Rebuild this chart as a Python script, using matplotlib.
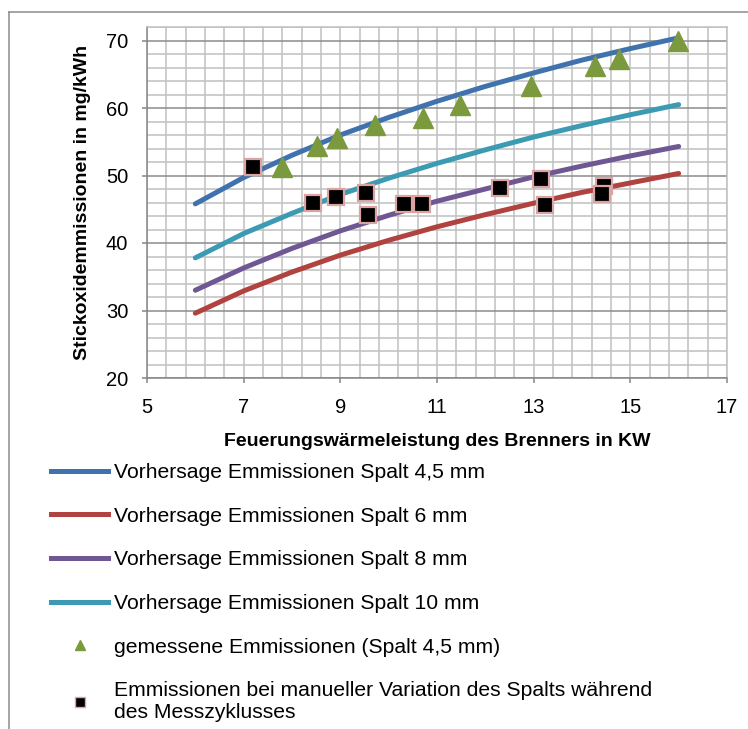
import matplotlib
matplotlib.use("Agg")
import matplotlib.pyplot as plt
from matplotlib.lines import Line2D
from matplotlib.ticker import MultipleLocator

plt.rcParams['font.family'] = ['Liberation Sans', 'DejaVu Sans']

# ---- data ----
x_curve = [6, 7, 8, 9, 10, 11, 12, 13, 14, 15, 16]
pred_45 = [45.8, 49.7, 53.0, 56.0, 58.6, 61.0, 63.2, 65.2, 67.1, 68.8, 70.4]
pred_6 = [29.6, 32.9, 35.7, 38.2, 40.4, 42.4, 44.2, 45.9, 47.5, 48.9, 50.3]
pred_8 = [33.0, 36.3, 39.2, 41.8, 44.1, 46.2, 48.0, 49.8, 51.4, 52.9, 54.3]
pred_10 = [37.8, 41.4, 44.4, 47.2, 49.6, 51.8, 53.8, 55.7, 57.4, 59.0, 60.5]

meas_x = [7.79, 8.51, 8.93, 9.72, 10.71, 11.47, 12.94, 14.27, 14.76, 15.98]
meas_y = [51.2, 54.4, 55.5, 57.5, 58.5, 60.5, 63.2, 66.2, 67.2, 69.9]

man_x = [7.19, 8.43, 8.91, 9.53, 9.57, 10.31, 10.69, 12.30, 13.15, 13.24, 14.45, 14.41]
man_y = [51.3, 46.0, 46.8, 47.4, 44.1, 45.8, 45.8, 48.2, 49.5, 45.6, 48.4, 47.2]

labels = [
    "Vorhersage Emmissionen Spalt 4,5 mm",
    "Vorhersage Emmissionen Spalt 6 mm",
    "Vorhersage Emmissionen Spalt 8 mm",
    "Vorhersage Emmissionen Spalt 10 mm",
    "gemessene Emmissionen (Spalt 4,5 mm)",
    "Emmissionen bei manueller Variation des Spalts während\ndes Messzyklusses",
]
x_ticks = [5, 7, 9, 11, 13, 15, 17]
y_ticks = [20, 30, 40, 50, 60, 70]
xlabel = "Feuerungswärmeleistung des Brenners in KW"
ylabel = "Stickoxidemmissionen in mg/kWh"

# ---- style ----
W, H = 748, 729
c_blue = '#4072ad'
c_red = '#b0433f'
c_purple = '#6f5794'
c_teal = '#3c9bb3'
c_green = '#7a9a3d'
c_pink = '#dba3a2'
grid_minor = '#c0c0c0'
grid_major = '#8c8c8c'
axis_col = '#868686'

fig = plt.figure(figsize=(W / 100, H / 100), dpi=100)
ax = fig.add_axes([147 / W, 1 - 378 / H, 580 / W, 351 / H])

ax.set_xlim(5, 17)
ax.set_ylim(20, 72)
ax.set_xticks(x_ticks)
ax.set_yticks(y_ticks)
ax.xaxis.set_minor_locator(MultipleLocator(0.4, offset=0.2))
ax.yaxis.set_minor_locator(MultipleLocator(2))

ax.grid(which='minor', color=grid_minor, lw=1.1, zorder=0)
ax.grid(which='major', axis='x', color=grid_minor, lw=1.1, zorder=0)
ax.grid(which='major', axis='y', color=grid_major, lw=1.1, zorder=0)
ax.set_axisbelow(True)

for s in ['top', 'right']:
    ax.spines[s].set_color(grid_minor)
    ax.spines[s].set_linewidth(1.1)
for s in ['left', 'bottom']:
    ax.spines[s].set_color(axis_col)
    ax.spines[s].set_linewidth(1.1)

ax.tick_params(which='major', direction='out', length=3.6, width=1.1,
               color=axis_col, labelsize=14.5)
ax.tick_params(axis='x', which='major', pad=11)
ax.tick_params(axis='y', which='major', pad=10)
ax.tick_params(which='minor', length=0)

lw = 3.6
ax.plot(x_curve, pred_45, color=c_blue, lw=lw, solid_capstyle='round', zorder=3)
ax.plot(x_curve, pred_6, color=c_red, lw=lw, solid_capstyle='round', zorder=3)
ax.plot(x_curve, pred_8, color=c_purple, lw=lw, solid_capstyle='round', zorder=3)
ax.plot(x_curve, pred_10, color=c_teal, lw=lw, solid_capstyle='round', zorder=3)
ax.plot(meas_x, meas_y, ls='none', marker='^', ms=14.5, color=c_green,
        mec=c_green, zorder=4, clip_on=False)
ax.plot(man_x, man_y, ls='none', marker='s', ms=12, mfc='black', mec=c_pink,
        mew=1.6, zorder=5, clip_on=False)

ax.set_xlabel(xlabel, fontsize=14, fontweight='bold', va='center')
ax.xaxis.set_label_coords(0.5, (378 - 441.7) / 351)
ax.set_ylabel(ylabel, fontsize=14, fontweight='bold', va='center')
ax.yaxis.set_label_coords((83 - 147) / 580, 0.5)

handles = [
    Line2D([], [], color=c_blue, lw=lw),
    Line2D([], [], color=c_red, lw=lw),
    Line2D([], [], color=c_purple, lw=lw),
    Line2D([], [], color=c_teal, lw=lw),
    Line2D([], [], ls='none', marker='^', ms=7.5, color=c_green),
    Line2D([], [], ls='none', marker='s', ms=6.5, mfc='black', mec=c_pink, mew=1),
]
fig.legend(handles, labels, loc='upper left',
           bbox_to_anchor=(51 / W, 1 - 463 / H), frameon=False,
           borderpad=0, borderaxespad=0, handlelength=2.72,
           handletextpad=0.25, labelspacing=1.17, fontsize=15.2)

# outer chart frame (clipped at right and bottom like the reference)
fig.add_artist(Line2D([9 / W, 1], [1 - 11.7 / H, 1 - 11.7 / H],
                      transform=fig.transFigure, color=grid_major, lw=1.1))
fig.add_artist(Line2D([9 / W, 9 / W], [1 - 11.7 / H, 0],
                      transform=fig.transFigure, color=grid_major, lw=1.1))

fig.savefig("out.png", dpi=100)
